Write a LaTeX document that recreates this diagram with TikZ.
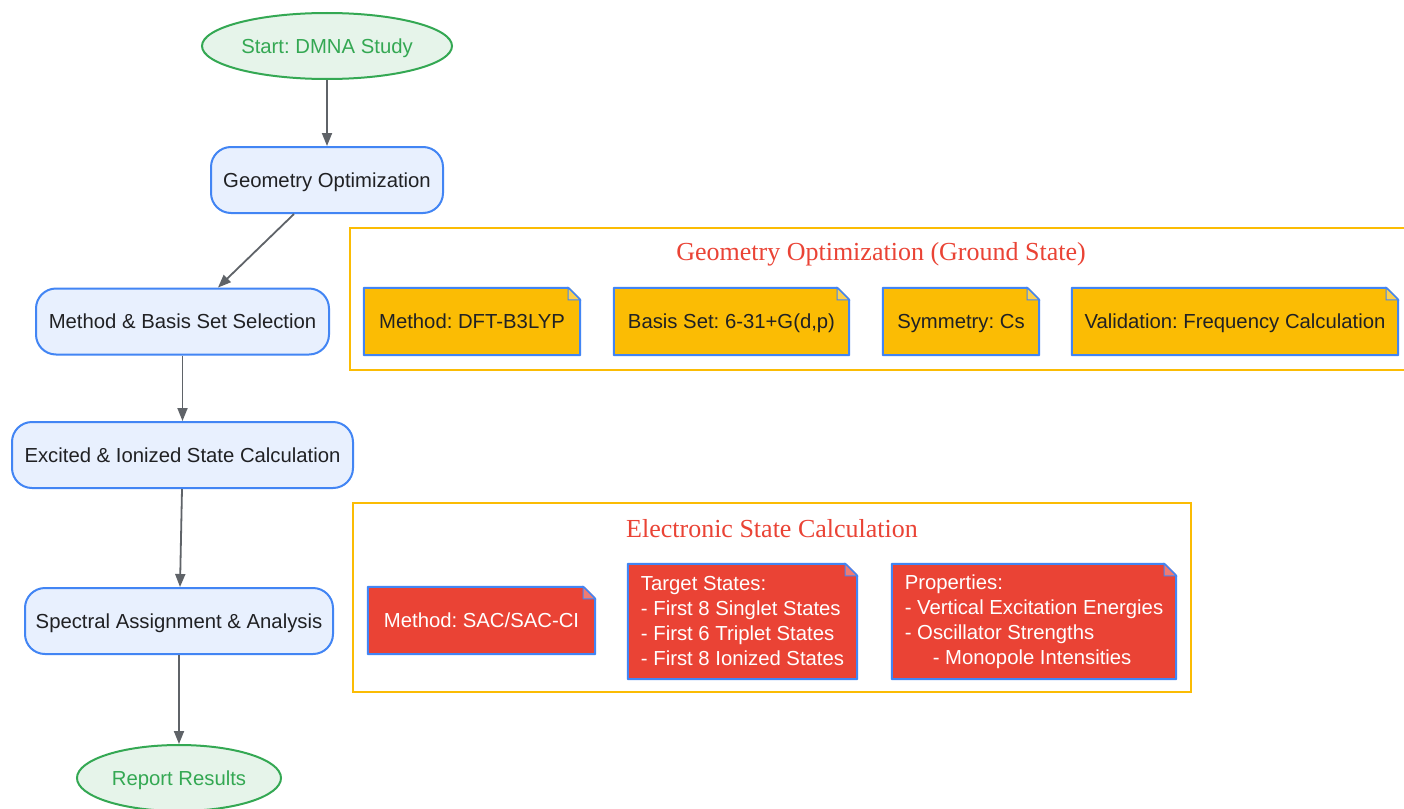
\documentclass[tikz,border=0pt]{standalone}
\usepackage{fontspec}
\setmainfont{Liberation Sans}
\newfontfamily\titlefont{Liberation Serif}
\usetikzlibrary{shapes.geometric,arrows.meta}
\definecolor{gblue}{HTML}{4285F4}
\definecolor{procfill}{HTML}{E8F0FE}
\definecolor{ggreen}{HTML}{34A853}
\definecolor{greenfill}{HTML}{E6F4EA}
\definecolor{gorange}{HTML}{FBBC04}
\definecolor{gred}{HTML}{EA4335}
\definecolor{textdark}{HTML}{202124}
\definecolor{arrowgray}{HTML}{5F6368}
\newcommand\foldcorner[2]{%
  \fill[white] ([xshift=-12pt,yshift=1.5pt]#1.north east) -- ([xshift=1.5pt,yshift=1.5pt]#1.north east) -- ([xshift=1.5pt,yshift=-12pt]#1.north east) -- cycle;
  \draw[gblue, line width=2pt, line join=round] (#1.north west) -- ([xshift=-12pt]#1.north east) -- ([yshift=-12pt]#1.north east) -- (#1.south east) -- (#1.south west) -- cycle;
  \draw[gblue, line width=1pt, fill=#2!70!white] ([xshift=-12pt]#1.north east) -- ([xshift=-12pt,yshift=-12pt]#1.north east) -- ([yshift=-12pt]#1.north east) -- cycle;
}
\begin{document}
\frenchspacing
\begin{tikzpicture}[x=1pt,y=-1pt,
  proc/.style={draw=gblue, fill=procfill, line width=2pt, rounded corners=20pt, inner sep=0pt, align=center, font=\fontsize{20.3}{24}\selectfont, text=textdark, text height=18pt, text depth=3.6pt},
  term/.style={ellipse, draw=ggreen, fill=greenfill, line width=2pt, inner sep=0pt, text=ggreen, font=\fontsize{20.3}{24}\selectfont, text height=18pt, text depth=3.6pt},
  flow/.style={-{Triangle[length=13pt,width=10pt]}, draw=arrowgray, line width=1.8pt},
  cluster/.style={draw=gorange, line width=1.8pt, inner sep=0pt},
  clustertitle/.style={text=gred, font=\titlefont\fontsize{26}{30}\selectfont, inner sep=0pt},
  noteo/.style={fill=gorange, inner sep=0pt, text=textdark, font=\fontsize{20.3}{25}\selectfont, text height=18pt, text depth=3.6pt},
  noter/.style={fill=gred, inner sep=0pt, text=white, align=left, font=\fontsize{20.3}{25}\selectfont}
]
\useasboundingbox (0,0) rectangle (1404,808);
\clip (0,0) rectangle (1404,808);
\fill[white] (0,0) rectangle (1404,808);

% clusters
\node[cluster, minimum width=1070, minimum height=142] (c1) at (885,299) {};
\node[clustertitle] (t1) at (881,254.5) {Geometry Optimization (Ground State)};
\node[cluster, minimum width=838, minimum height=189] (c2) at (772,597.5) {};
\node[clustertitle] (t2) at (772,529) {Electronic State Calculation};

% main flow
\node[term, minimum width=250, minimum height=66] (start) at (327,46) {Start: DMNA Study};
\node[proc, minimum width=232, minimum height=66] (geo) at (327,180) {Geometry Optimization};
\node[proc, minimum width=293, minimum height=66] (meth) at (182.5,321.5) {Method \& Basis Set Selection};
\node[proc, minimum width=341, minimum height=66] (exc) at (182.5,455) {Excited \& Ionized State Calculation};
\node[proc, minimum width=308, minimum height=66] (spec) at (179,621) {Spectral Assignment \& Analysis};
\node[term, minimum width=204, minimum height=66] (rep) at (179,778) {Report Results};

\draw[flow] (start) -- (geo);
\draw[flow] ([xshift=-33pt]geo.south) -- ([xshift=35.5pt]meth.north);
\draw[flow] (meth) -- (exc);
\draw[flow] ([xshift=-0.5pt]exc.south) -- ([xshift=1pt]spec.north);
\draw[flow] (spec) -- (rep);

% geometry notes
\node[noteo, minimum width=216, minimum height=67] (n1) at (472,321.5) {Method: DFT-B3LYP};
\foldcorner{n1}{gorange}
\node[noteo, minimum width=235, minimum height=67] (n2) at (731.5,321.5) {Basis Set: 6-31+G(d,p)};
\foldcorner{n2}{gorange}
\node[noteo, minimum width=156, minimum height=67] (n3) at (961,321.5) {Symmetry: Cs};
\foldcorner{n3}{gorange}
\node[noteo, minimum width=326, minimum height=67] (n4) at (1235,321.5) {Validation: Frequency Calculation};
\foldcorner{n4}{gorange}

% electronic notes
\node[noter, minimum width=227, minimum height=67, text height=18pt, text depth=3.6pt] (e1) at (481.5,620.5) {Method: SAC/SAC-CI};
\foldcorner{e1}{gred}
\node[noter, minimum width=229, minimum height=115] (e2) at (742.5,621.5) {\rule{0pt}{2pt}Target States:\\- First 8 Singlet States\\- First 6 Triplet States\\- First 8 Ionized States};
\foldcorner{e2}{gred}
\node[noter, minimum width=284, minimum height=115] (e3) at (1034,621.5) {\rule{0pt}{2pt}Properties:\\- Vertical Excitation Energies\\- Oscillator Strengths\\\hspace*{28pt}- Monopole Intensities};
\foldcorner{e3}{gred}
\end{tikzpicture}
\end{document}
